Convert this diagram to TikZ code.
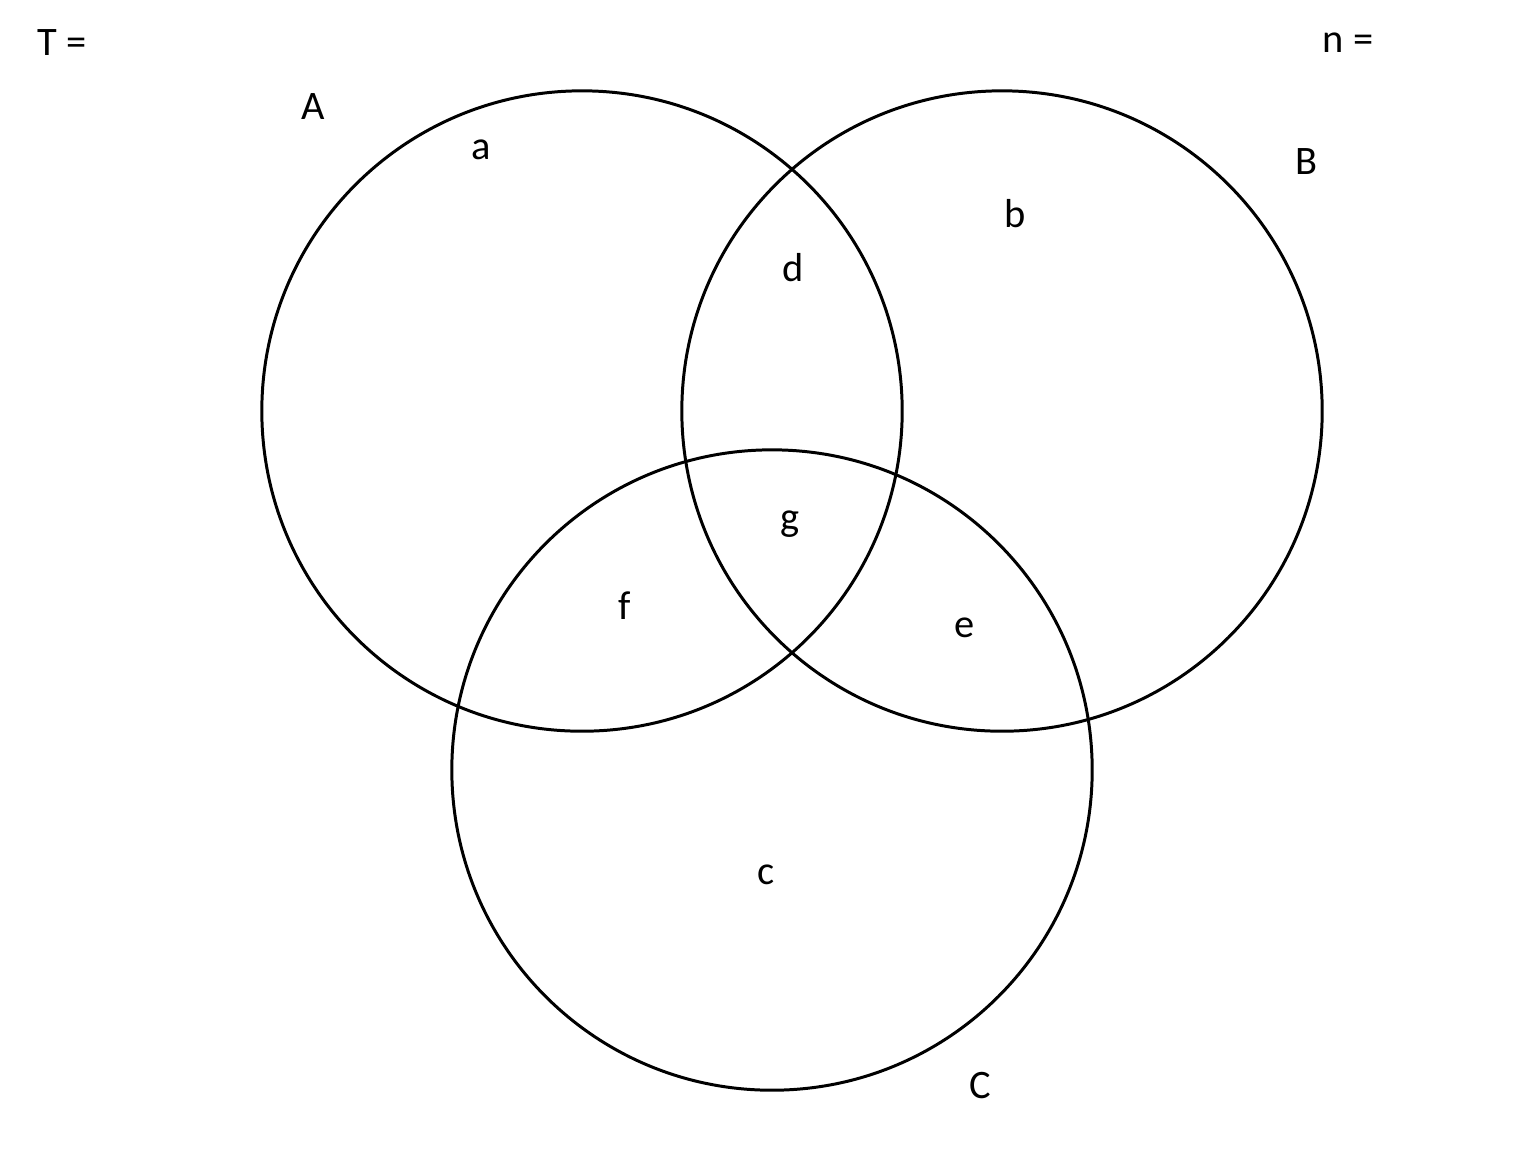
\documentclass[tikz,border=0pt]{standalone}
\usepackage{fontspec}
\setmainfont{Carlito}
\usetikzlibrary{positioning}

\begin{document}
\begin{tikzpicture}[x=0.01cm,y=-0.01cm,
	lbl/.style={font=\fontsize{11.5}{13}\selectfont, inner sep=0pt}]

	\def\R{320}
	\useasboundingbox (0,0) rectangle (1516,1153);

	% set centres
	\coordinate (cA) at (582,411);
	\coordinate (cB) at (1002,411);
	\coordinate (cC) at (772,770);

	% circles
	\draw [line width=0.85pt] (cA) circle (3.2cm);
	\draw [line width=0.85pt] (cB) circle (3.2cm);
	\draw [line width=0.85pt] (cC) circle (3.2cm);

	% headers
	\node[lbl] (T) at (62,43) {T =};
	\node[lbl] (n) at (1348,43) {n =};

	% set names
	\node[lbl] (A) at (313,107) {A};
	\node[lbl] (B) at (1306,162) {B};
	\node[lbl] (C) at (980,1085) {C};

	% regions
	\node[lbl] (a) at (481,150) {a};
	\node[lbl] (b) at (1015,214) {b};
	\node[lbl] (c) at (766,875) {c};
	\node[lbl] (d) at (793,268) {d};
	\node[lbl] (e) at (965,628) {e};
	\node[lbl] (f) at (625,606) {f};
	\node[lbl] (g) at (790,524) {g};

\end{tikzpicture}
\end{document}
